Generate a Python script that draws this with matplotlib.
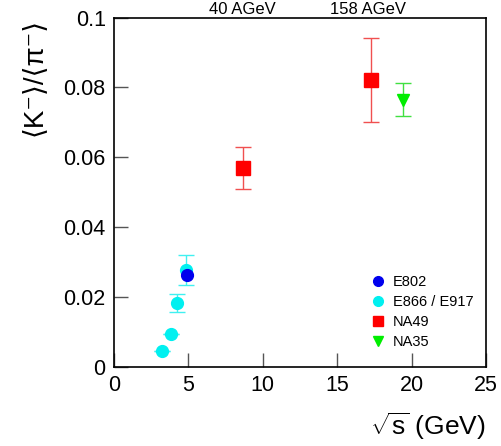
import matplotlib
matplotlib.use("Agg")
import matplotlib.pyplot as plt
import matplotlib.transforms as mtransforms
from matplotlib.lines import Line2D

plt.rcParams['font.family'] = ['Liberation Sans', 'DejaVu Sans']
plt.rcParams['mathtext.fontset'] = 'custom'
plt.rcParams['mathtext.rm'] = 'Liberation Sans'
plt.rcParams['mathtext.it'] = 'Liberation Sans:italic'

# data: sqrt(s) in GeV, <K->/<pi-> ratio, error
e802_x = [4.9]
e802_y = [0.0262]

e866_x = [3.25, 3.8, 4.25, 4.85]
e866_y = [0.0045, 0.0095, 0.0183, 0.0278]
e866_err = [0.0, 0.0, 0.0027, 0.0043]

na49_x = [8.7, 17.3]
na49_y = [0.0570, 0.0820]
na49_err = [0.006, 0.012]

na35_x = [19.4]
na35_y = [0.0765]
na35_err = [0.0048]

beam_labels = ['40 AGeV', '158 AGeV']
beam_x = [8.6, 17.1]

yticks = [0, 0.02, 0.04, 0.06, 0.08, 0.1]
ytick_labels = ['0', '0.02', '0.04', '0.06', '0.08', '0.1']

fig = plt.figure(figsize=(5.02, 4.46), dpi=100)
ax = fig.add_subplot(111)
fig.subplots_adjust(left=114/502, right=486/502, top=1-17.5/446, bottom=1-367/446)

ax.errorbar(e866_x, e866_y, yerr=e866_err, fmt='o', color='#00f0f0', ms=8.5,
            ecolor='#40f0f0', capsize=6, elinewidth=1, zorder=3)
ax.errorbar(e802_x, e802_y, fmt='o', color='#0000ee', ms=8.5, zorder=4)
ax.errorbar(na49_x, na49_y, yerr=na49_err, fmt='s', color='#ff0000', ms=9.5,
            ecolor='#f05050', capsize=6, elinewidth=1, zorder=3)
ax.errorbar(na35_x, na35_y, yerr=na35_err, fmt='v', color='#00ee00', ms=8,
            ecolor='#40e040', capsize=6, elinewidth=1, zorder=3)

ax.set_xlim(0, 25)
ax.set_ylim(0, 0.1)
ax.set_xticks([0, 5, 10, 15, 20, 25])
ax.set_yticks(yticks)
ax.set_yticklabels(ytick_labels)
ax.tick_params(direction='in', length=10, width=1, color='#555555', labelsize=15.5, pad=6)
for s in ax.spines.values():
    s.set_linewidth(1.2)

ax.set_ylabel('⟨K⁻⟩/⟨π⁻⟩', fontsize=20, loc='top', labelpad=12)
ax.set_xlabel(r'$\sqrt{\mathrm{s}}$ (GeV)', fontsize=19, loc='right', labelpad=10)

trans = mtransforms.blended_transform_factory(ax.transData, fig.transFigure)
for lab, bx in zip(beam_labels, beam_x):
    ax.text(bx, 1 - 9/446, lab, transform=trans, ha='center', va='center', fontsize=12)

handles = [
    Line2D([], [], ls='none', marker='o', color='#0000ee', ms=7),
    Line2D([], [], ls='none', marker='o', color='#00f0f0', ms=7),
    Line2D([], [], ls='none', marker='s', color='#ff0000', ms=7),
    Line2D([], [], ls='none', marker='v', color='#00ee00', ms=7),
]
labels = ['E802', 'E866 / E917', 'NA49', 'NA35']
ax.legend(handles, labels, loc='upper left', bbox_to_anchor=(0.655, 0.3), frameon=False,
          fontsize=10.5, handlelength=1, handletextpad=0.5, labelspacing=0.4)

fig.savefig('out.png', dpi=100)
